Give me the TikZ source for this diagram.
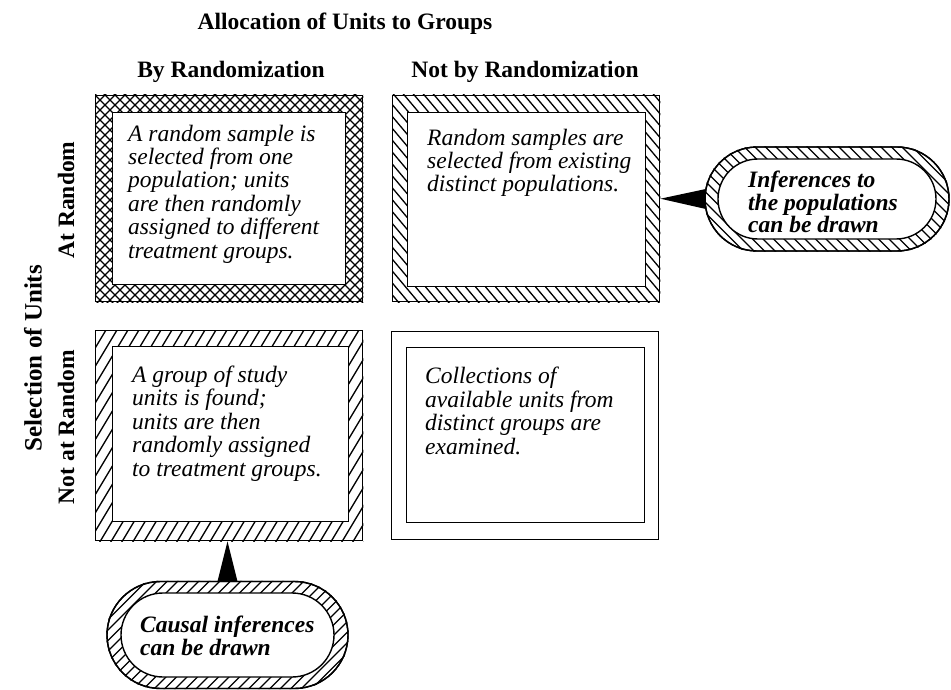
\documentclass[tikz,border=0pt]{standalone}
\usepackage{fontspec}
\setmainfont{Liberation Serif}
\usetikzlibrary{shapes.misc}
\begin{document}
\begin{tikzpicture}[x=1pt,y=-1pt,
  frame/.style={draw, line width=1.4pt, anchor=north west, inner sep=0pt},
  hatchline/.style={line width=1.3pt},
  body/.style={anchor=base west, align=left, inner sep=0pt, font=\fontsize{23.5}{23.4}\selectfont\itshape},
  callt/.style={anchor=base west, align=left, inner sep=0pt, font=\fontsize{23.5}{22.5}\selectfont\bfseries\itshape},
  head/.style={font=\fontsize{23.5}{26}\selectfont\bfseries, inner sep=0pt},
  pill/.style={rounded rectangle, draw, line width=1.4pt, inner sep=0pt},
]
\fill[white] (0,0) rectangle (951,690);
\useasboundingbox (0,0) rectangle (951,690);

% headings
\node[head] (title) at (345,24) {Allocation of Units to Groups};
\node[head] (colA) at (231,72) {By Randomization};
\node[head] (colB) at (525,72) {Not by Randomization};
\node[head, rotate=90, font=\fontsize{25}{26}\selectfont\bfseries] (rowT) at (33,358) {Selection of Units};
\node[head, rotate=90] (rowA) at (66,200) {At Random};
\node[head, rotate=90] (rowB) at (66,427) {Not at Random};

% ---------- top-left box (cross-hatched)
\node[frame, minimum width=267, minimum height=206] (tlo) at (95,95) {};
\begin{scope}
  \clip (tlo.north west) rectangle (tlo.south east);
  \foreach \x in {-120,-110,...,370} {
    \draw[hatchline] (\x,90) -- (\x+220,310);
    \draw[hatchline] (\x,310) -- (\x+220,90);
  }
\end{scope}
\node[frame, fill=white, minimum width=233, minimum height=172] (tli) at (112,112) {};

% ---------- top-right box
\node[frame, minimum width=267, minimum height=206] (tro) at (392,95) {};
\begin{scope}
  \clip (tro.north west) rectangle (tro.south east);
  \foreach \x in {200,210,...,670} {
    \draw[hatchline] (\x,90) -- (\x+185,310);
  }
\end{scope}
\node[frame, fill=white, minimum width=238, minimum height=174] (tri) at (407,112) {};

% ---------- bottom-left box
\node[frame, minimum width=267, minimum height=210] (blo) at (95,330) {};
\begin{scope}
  \clip (blo.north west) rectangle (blo.south east);
  \foreach \x in {-45,-34,...,370} {
    \draw[hatchline] (\x,545) -- (\x+132,325);
  }
\end{scope}
\node[frame, fill=white, minimum width=236, minimum height=175] (bli) at (112,346) {};

% ---------- bottom-right box (plain double frame)
\node[frame, minimum width=267, minimum height=208] (bro) at (391,331) {};
\node[frame, fill=white, minimum width=238, minimum height=175] (bri) at (406,347) {};

% ---------- right callout
\node[pill, fill=white, minimum width=244, minimum height=104] (rco) at (827,199) {};
\begin{scope}
  \clip[rounded corners=51.9pt] (rco.west |- rco.north) rectangle (rco.east |- rco.south);
  \foreach \x in {580,590.5,...,960} {
    \draw[hatchline] (\x,140) -- (\x+120,260);
  }
\end{scope}
\node[pill, minimum width=244, minimum height=104] at (rco.center) {};
\node[pill, fill=white, minimum width=218, minimum height=80] (rci) at (rco.center) {};

% ---------- bottom callout
\node[pill, fill=white, minimum width=241, minimum height=107] (bco) at (227.5,635) {};
\begin{scope}
  \clip[rounded corners=53.4pt] (bco.west |- bco.north) rectangle (bco.east |- bco.south);
  \foreach \x in {-20,-9.5,...,360} {
    \draw[hatchline] (\x,695) -- (\x+120,575);
  }
\end{scope}
\node[pill, minimum width=241, minimum height=107] at (bco.center) {};
\node[pill, fill=white, minimum width=213, minimum height=84] (bci) at (bco.center) {};

% ---------- pointers
\fill (tro.east) -- ([xshift=1.5pt,yshift=10pt]rco.west) -- ([xshift=1.5pt,yshift=-10pt]rco.west) -- cycle;
\fill (bco.north |- blo.south) -- ([xshift=-10pt,yshift=-0.5pt]bco.north) -- ([xshift=10pt,yshift=-0.5pt]bco.north) -- cycle;

% ---------- texts (anchored at the baseline of the last line)
\node[body] (ttl) at (128,258) {A random sample is\\selected from one\\population; units\\are then randomly\\assigned to different\\treatment groups.};
\node[body] (ttr) at (427,192) {Random samples are\\selected from existing\\distinct populations.};
\node[body] (tbl) at (132,476) {A group of study\\units is found;\\units are then\\randomly assigned\\to treatment groups.};
\node[body] (tbr) at (425,454) {Collections of\\available units from\\distinct groups are\\examined.};
\node[callt] (trc) at (748,233) {Inferences to\\the populations\\can be drawn};
\node[callt] (tbc) at (140,655) {Causal inferences\\can be drawn};
\end{tikzpicture}
\end{document}
